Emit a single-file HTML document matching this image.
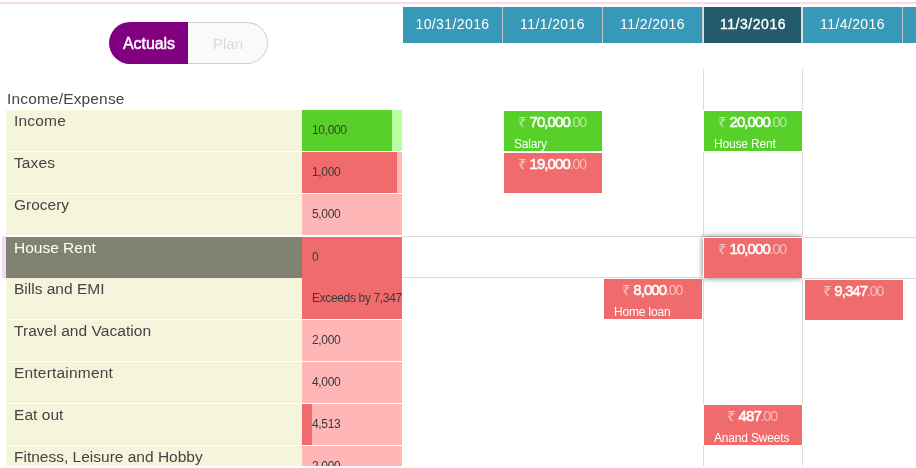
<!DOCTYPE html>
<html lang="en">
<head>
<meta charset="utf-8">
<title>Budget Planner</title>
<style>
*{box-sizing:border-box;margin:0;padding:0}
html,body{width:916px;height:468px;overflow:hidden;background:#fff}
body{position:relative;font-family:"Liberation Sans",sans-serif;color:#3a3a3a}
.abs{position:absolute}
.topline{left:0;top:2px;width:916px;height:2px;background:#f3dcf3}
/* toggle */
.toggle{left:109px;top:22px;width:159px;height:42px}
.toggle .on{position:absolute;left:0;top:0;width:79px;height:42px;border-radius:21px 0 0 21px;background:#800080;color:#fff;font-size:16px;line-height:44px;text-align:center;-webkit-text-stroke:0.45px #fff;letter-spacing:-0.05px;padding-left:1px}
.toggle .off{position:absolute;left:79px;top:0;width:80px;height:42px;border-radius:0 21px 21px 0;border:1px solid #cfcfcf;border-left:0;background:#fafafa;color:#d9d9de;font-size:15px;line-height:41px;text-align:center;padding-left:1px}
/* header */
.hd{top:7px;height:36px;width:100px;background:#3799b7;border-right:1px solid #c8c8c8;color:#fff;font-size:14px;line-height:35px;text-align:center;letter-spacing:0.4px}
.hd.sel{background:#235b6c;border-left:1px solid #e2dcdc;border-right:2px solid #e2dcdc;padding-left:1px;-webkit-text-stroke:0.35px #fff;letter-spacing:0.55px}
/* left table */
.title{left:7px;top:90px;font-size:15.5px;line-height:18px;color:#444;white-space:nowrap;letter-spacing:0.15px}
.lab{left:6px;width:296px;height:41px;background:#f5f5dc;font-size:15.5px;line-height:18px;padding:2px 0 0 8px;color:#444;white-space:nowrap;letter-spacing:0.2px}
.lab.sel{background:#828270;color:#fff}
.bud{left:302px;width:100px;height:41px;font-size:12px;line-height:14px;padding:13px 0 0 10px;color:#3b3b3b;white-space:nowrap;overflow:hidden;letter-spacing:-0.35px}
.bud i{position:absolute;left:0;top:0;height:100%;display:block}
.bud span{position:relative}
.g{background:#b9fda0}.g i{background:#57d029}
.r{background:#ffb6b6}.r i{background:#f06b6c}
/* grid */
.vline{width:1px;background:#dcdcdc}
.hline{height:1px;background:#dcdcdc}
.e{width:98px;height:40px;color:#fff;text-align:center;white-space:nowrap;overflow:hidden}
.e.gr{background:#57d029}
.e.rd{background:#f06b6c}
.e .a{display:block;position:relative;left:-0.8px;font-size:15px;line-height:18px;padding-top:2px}
.e .a s{text-decoration:none;opacity:.6;font-size:14px;display:inline-block;transform:scaleX(1.12);margin-right:-0.9px}
.e .a b{letter-spacing:-0.9px;font-weight:normal;-webkit-text-stroke:0.55px #fff}
.e .a u{text-decoration:none;opacity:.55;font-size:14px;letter-spacing:-0.9px;margin-left:-0.5px}
.e .n{position:absolute;left:10px;top:26px;font-size:12px;line-height:14px;letter-spacing:-0.18px}
.selcell{left:703px;top:237px;width:99px;height:41px;background:#fff;box-shadow:0 0 6px rgba(0,0,0,.55);clip-path:inset(-9px 0 -9px -9px)}
</style>
</head>
<body>
<div class="abs topline"></div>

<div class="abs toggle"><div class="on">Actuals</div><div class="off">Plan</div></div>

<div class="abs hd" style="left:403px">10/31/2016</div>
<div class="abs hd" style="left:503px">11/1/2016</div>
<div class="abs hd" style="left:603px">11/2/2016</div>
<div class="abs hd sel" style="left:703px">11/3/2016</div>
<div class="abs hd" style="left:803px">11/4/2016</div>
<div class="abs hd" style="left:903px"></div>

<div class="abs title">Income/Expense</div>

<div class="abs lab" style="top:110px">Income</div>
<div class="abs lab" style="top:152px;letter-spacing:0.1px">Taxes</div>
<div class="abs lab" style="top:194px;letter-spacing:0px">Grocery</div>
<div class="abs" style="left:2px;top:236px;width:4px;height:42px;background:#f1dcf1"></div>
<div class="abs lab sel" style="top:237px;letter-spacing:0px">House Rent</div>
<div class="abs lab" style="top:278px;letter-spacing:0px">Bills and EMI</div>
<div class="abs lab" style="top:320px;letter-spacing:0.05px">Travel and Vacation</div>
<div class="abs lab" style="top:362px">Entertainment</div>
<div class="abs lab" style="top:404px;letter-spacing:0.05px">Eat out</div>
<div class="abs lab" style="top:446px;letter-spacing:0px">Fitness, Leisure and Hobby</div>

<div class="abs bud g" style="top:110px"><i style="width:90px"></i><span>10,000</span></div>
<div class="abs bud r" style="top:152px"><i style="width:95px"></i><span>1,000</span></div>
<div class="abs bud r" style="top:194px"><i style="width:0"></i><span>5,000</span></div>
<div class="abs bud r" style="top:237px"><i style="width:100px"></i><span>0</span></div>
<div class="abs bud r" style="top:278px"><i style="width:100px"></i><span>Exceeds by 7,347</span></div>
<div class="abs bud r" style="top:320px"><i style="width:0"></i><span>2,000</span></div>
<div class="abs bud r" style="top:362px"><i style="width:0"></i><span>4,000</span></div>
<div class="abs bud r" style="top:404px"><i style="width:10px"></i><span>4,513</span></div>
<div class="abs bud r" style="top:446px"><i style="width:0"></i><span>2,000</span></div>

<!-- grid lines -->
<div class="abs vline" style="left:703px;top:69px;height:41px"></div>
<div class="abs vline" style="left:802px;top:69px;height:41px"></div>
<div class="abs vline" style="left:703px;top:152px;height:84px"></div>
<div class="abs vline" style="left:802px;top:152px;height:84px"></div>
<div class="abs vline" style="left:703px;top:279px;height:125px"></div>
<div class="abs vline" style="left:802px;top:279px;height:125px"></div>
<div class="abs vline" style="left:703px;top:446px;height:20px"></div>
<div class="abs vline" style="left:802px;top:446px;height:20px"></div>
<div class="abs hline" style="left:402px;top:236px;width:401px"></div>
<div class="abs hline" style="left:803px;top:237px;width:113px"></div>
<div class="abs hline" style="left:402px;top:277px;width:401px"></div>
<div class="abs hline" style="left:803px;top:278px;width:113px"></div>

<div class="abs selcell"></div>

<!-- entries -->
<div class="abs e gr" style="left:504px;top:111px"><span class="a"><s>₹</s> <b>70,000</b><u>.00</u></span><span class="n">Salary</span></div>
<div class="abs e rd" style="left:504px;top:153px"><span class="a"><s>₹</s> <b>19,000</b><u>.00</u></span></div>
<div class="abs e gr" style="left:704px;top:111px"><span class="a"><s>₹</s> <b>20,000</b><u>.00</u></span><span class="n">House Rent</span></div>
<div class="abs e rd" style="left:704px;top:238px;height:40px"><span class="a"><s>₹</s> <b>10,000</b><u>.00</u></span></div>
<div class="abs e rd" style="left:604px;top:279px"><span class="a"><s>₹</s> <b>8,000</b><u>.00</u></span><span class="n">Home loan</span></div>
<div class="abs e rd" style="left:805px;top:280px"><span class="a"><s>₹</s> <b>9,347</b><u>.00</u></span></div>
<div class="abs e rd" style="left:704px;top:405px"><span class="a"><s>₹</s> <b>487</b><u>.00</u></span><span class="n">Anand Sweets</span></div>
<div class="abs" style="left:0;top:466px;width:916px;height:2px;background:#fff"></div>
</body>
</html>
